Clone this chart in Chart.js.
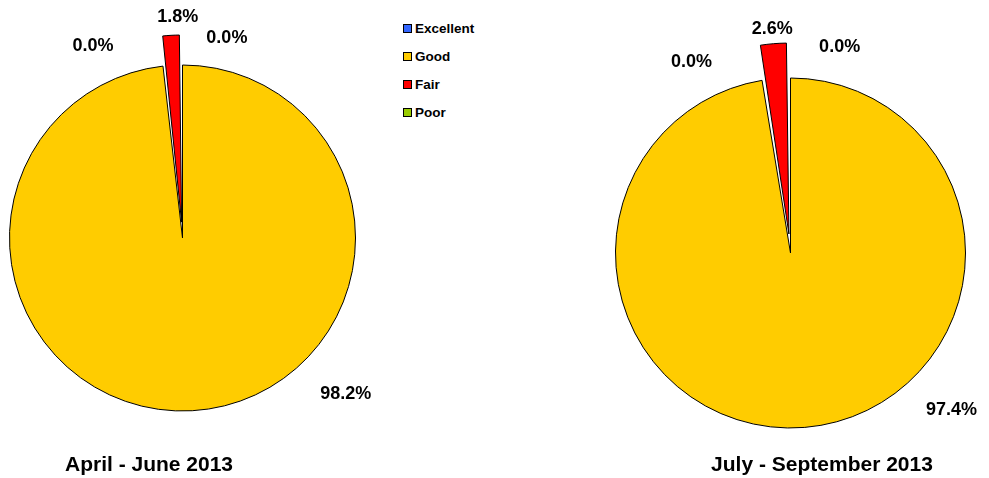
<!DOCTYPE html>
<html lang="en">
<head>
    <meta charset="UTF-8">
    <title>Condition Pies</title>
    <script src="https://cdn.jsdelivr.net/npm/chart.js"></script>
    <style>
        body {
            margin: 0;
            width: 989px;
            height: 478px;
            overflow: hidden;
            background: #fff;
            font-family: Arial, "Liberation Sans", sans-serif;
            position: relative;
        }
        .pie-box { position: absolute; }
        .pie-title {
            position: absolute;
            top: 452px;
            font-weight: bold;
            font-size: 21px;
            transform: translateX(-50%);
            white-space: nowrap;
            color: #000;
        }
        #legend {
            position: absolute;
            left: 403px;
            top: 15px;
        }
        .legend-item {
            height: 27.8px;
            display: flex;
            align-items: center;
            font-weight: bold;
            font-size: 13.5px;
        }
        .legend-swatch {
            width: 7px;
            height: 7px;
            border: 1px solid #000;
            margin-right: 3px;
        }
    </style>
</head>
<body>
    <div class="pie-box" style="left:0;top:0;width:400px;height:476px;"><canvas id="pieQ2"></canvas></div>
    <div class="pie-box" style="left:592px;top:0;width:397px;height:478px;"><canvas id="pieQ3"></canvas></div>
    <div id="legend"></div>
    <div class="pie-title" style="left:149px;">April - June 2013</div>
    <div class="pie-title" style="left:822px;">July - September 2013</div>

    <script>
        // Categories and values (percent)
        const categories = ['Excellent', 'Good', 'Fair', 'Poor'];
        const aprJun2013 = [0.0, 98.2, 1.8, 0.0];
        const julSep2013 = [0.0, 97.4, 2.6, 0.0];
        const sliceColors = ['#3366FF', '#FFCC00', '#FF0000', '#99CC00'];

        // legend
        const legendEl = document.getElementById('legend');
        categories.forEach((c, i) => {
            const item = document.createElement('div');
            item.className = 'legend-item';
            item.innerHTML = '<span class="legend-swatch" style="background:' + sliceColors[i] + '"></span>' + c;
            legendEl.appendChild(item);
        });

        // Chart.js moves an arc by offset/4 * (2 - sin(circumference)),
        // so work back from the wanted pixel shift
        function arcShift(offset, circ) {
            return offset / 4 * (2 - Math.sin(Math.min(Math.PI, circ)));
        }
        function offsetFor(px, pct) {
            return px / arcShift(1, pct / 100 * 2 * Math.PI);
        }

        // Draws percentage labels outside the slices, Excel "best fit" style
        const pctLabels = {
            id: 'pctLabels',
            afterDatasetsDraw(chart, args, opts) {
                const ctx = chart.ctx;
                const meta = chart.getDatasetMeta(0);
                const ds = chart.data.datasets[0];
                ctx.save();
                ctx.font = 'bold 18px Arial, "Liberation Sans", sans-serif';
                ctx.fillStyle = '#000';
                ctx.textAlign = 'center';
                ctx.textBaseline = 'middle';
                meta.data.forEach((arc, i) => {
                    const p = arc.getProps(['x', 'y', 'startAngle', 'endAngle', 'outerRadius', 'circumference'], true);
                    const off = ds.data[i] > 0 ? arcShift(ds.offset[i] || 0, p.circumference) : 0;
                    const mid = (p.startAngle + p.endAngle) / 2 + opts.angleNudge[i] * Math.PI / 180;
                    const dist = p.outerRadius + off + opts.gap[i];
                    ctx.fillText(ds.data[i].toFixed(1) + '%', p.x + Math.cos(mid) * dist, p.y + Math.sin(mid) * dist);
                });
                ctx.restore();
            }
        };

        function makePie(id, values, radius, explodePx, padding, labelOpts) {
            return new Chart(document.getElementById(id), {
                type: 'pie',
                data: {
                    labels: categories,
                    datasets: [{
                        data: values,
                        backgroundColor: sliceColors,
                        borderColor: '#000',
                        borderWidth: 1,
                        offset: [0, 0, offsetFor(explodePx, values[2]), 0]
                    }]
                },
                options: {
                    responsive: true,
                    maintainAspectRatio: false,
                    animation: false,
                    radius: radius,
                    layout: { padding: padding },
                    plugins: {
                        legend: { display: false },
                        tooltip: { enabled: false },
                        pctLabels: labelOpts
                    }
                },
                plugins: [pctLabels]
            });
        }

        makePie('pieQ2', aprJun2013, 173, 30, { right: 35 },
            { angleNudge: [12.5, -43, 2, -25], gap: [32, 53, 18, 39] });
        makePie('pieQ3', julSep2013, 175, 35, { top: 28 },
            { angleNudge: [13.4, -41, 0, -27.4], gap: [37, 50, 15, 40] });
    </script>
</body>
</html>
